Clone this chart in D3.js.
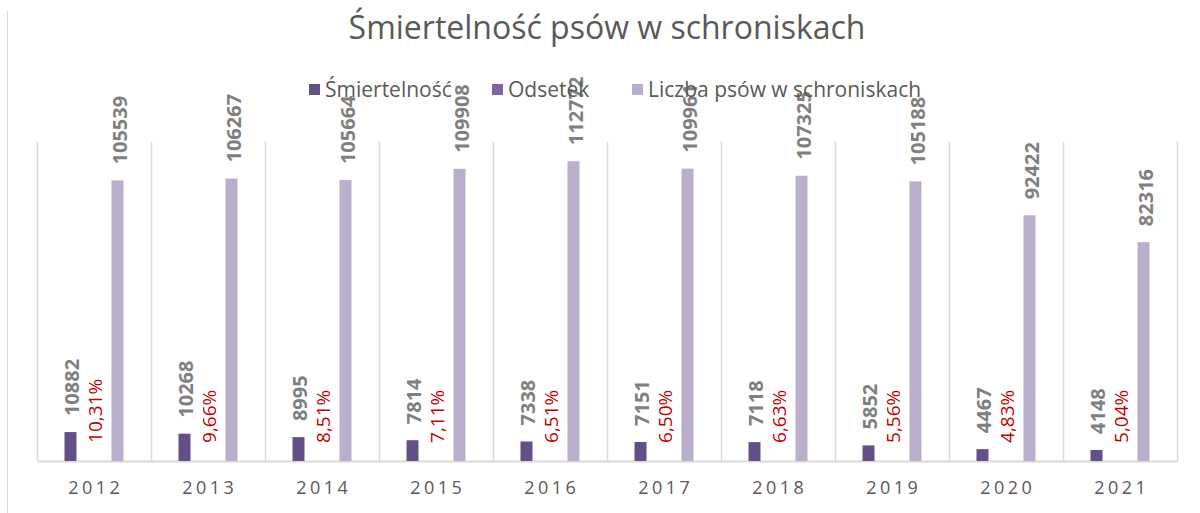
<!DOCTYPE html>
<html>
<head>
<meta charset="utf-8">
<script src="https://cdn.jsdelivr.net/npm/d3@7"></script>
<style>
  body { margin: 0; background: #fff; }
  svg { font-family: "Open Sans", sans-serif; }
</style>
</head>
<body>
<div id="chart"></div>
<script>
// data
var years = ["2012", "2013", "2014", "2015", "2016", "2017", "2018", "2019", "2020", "2021"];
var deaths = [10882, 10268, 8995, 7814, 7338, 7151, 7118, 5852, 4467, 4148];
var rates = [10.31, 9.66, 8.51, 7.11, 6.51, 6.50, 6.63, 5.56, 4.83, 5.04];
var dogs = [105539, 106267, 105664, 109908, 112772, 109961, 107325, 105188, 92422, 82316];
var seriesNames = ["Śmiertelność", "Odsetek", "Liczba psów w schroniskach"];
var seriesColors = ["#654f87", "#8064a2", "#b9aecb"];

var width = 1200, height = 513;
var plot = {left: 37, right: 1177, top: 142, bottom: 461};

var svg = d3.select("#chart").append("svg")
  .attr("width", width)
  .attr("height", height);

// chart border (only the left edge is in frame)
svg.append("line")
  .attr("x1", 7.5).attr("x2", 7.5)
  .attr("y1", 11).attr("y2", height)
  .attr("stroke", "#d9d9d9");

// Title
svg.append("text")
  .attr("x", 607)
  .attr("y", 39)
  .attr("text-anchor", "middle")
  .attr("fill", "#595959")
  .style("font-size", "32px")
  .text("Śmiertelność psów w schroniskach");

var xScale = d3.scaleBand()
  .domain(years)
  .range([plot.left, plot.right]);

var inner = d3.scaleBand()
  .domain([0, 1, 2])
  .range([-29.5, 29.5])
  .paddingInner(0.49);

var yScale = d3.scaleLinear()
  .domain([0, 120000])
  .range([plot.bottom, plot.top]);

// vertical gridlines at category boundaries
var bounds = years.map(function(d) { return xScale(d); }).concat([plot.right]);
svg.append("g").selectAll("line")
  .data(bounds)
  .enter().append("line")
  .attr("x1", function(d) { return Math.round(d) + 0.5; })
  .attr("x2", function(d) { return Math.round(d) + 0.5; })
  .attr("y1", plot.top)
  .attr("y2", plot.bottom)
  .attr("stroke", "#d9d9d9")
  .attr("stroke-width", 1.5);

// x axis
var xAxis = svg.append("g")
  .attr("transform", "translate(0," + plot.bottom + ")")
  .call(d3.axisBottom(xScale).tickSize(0).tickPadding(20));
xAxis.select(".domain").attr("stroke", "#d9d9d9").attr("stroke-width", 2);
xAxis.selectAll("text")
  .attr("fill", "#595959")
  .style("font-size", "18px")
  .style("letter-spacing", "3.5px")
  .style("font-family", "'Open Sans', sans-serif")
  .attr("dx", "1.75px");

var series = [deaths, rates, dogs];

// Bars
series.forEach(function(values, s) {
  svg.append("g").selectAll("rect")
    .data(values)
    .enter().append("rect")
    .attr("x", function(d, i) { return xScale(years[i]) + xScale.bandwidth() / 2 + inner(s); })
    .attr("width", inner.bandwidth())
    .attr("y", function(d) { return yScale(d); })
    .attr("height", function(d) { return plot.bottom - yScale(d); })
    .attr("fill", seriesColors[s]);
});

// value labels
function labelX(i, s) {
  return xScale(years[i]) + xScale.bandwidth() / 2 + inner(s) + inner.bandwidth() / 2;
}

[0, 2].forEach(function(s) {
  svg.append("g").selectAll("text")
    .data(series[s])
    .enter().append("text")
    .attr("transform", function(d, i) {
      return "translate(" + (labelX(i, s) + 9) + "," + (yScale(d) - 16) + ") rotate(-90)";
    })
    .attr("fill", "#7f7f7f")
    .attr("font-weight", "bold")
    .style("font-size", "20px")
    .text(function(d) { return d; });
});

svg.append("g").selectAll("text")
  .data(rates)
  .enter().append("text")
  .attr("transform", function(d, i) {
    return "translate(" + (labelX(i, 1) + 8) + "," + (yScale(d) - 18) + ") rotate(-90)";
  })
  .attr("fill", "#c00000")
  .style("font-size", "19px")
  .text(function(d) { return d.toFixed(2).replace(".", ",") + "%"; });

// Legend
var legendX = [309, 492, 632];
var legend = svg.selectAll(".legend")
  .data(seriesNames)
  .enter().append("g")
  .attr("class", "legend")
  .attr("transform", function(d, i) { return "translate(" + legendX[i] + ",84)"; });

legend.append("rect")
  .attr("width", 11)
  .attr("height", 11)
  .attr("fill", function(d, i) { return seriesColors[i]; });

legend.append("text")
  .attr("x", 16)
  .attr("y", 13)
  .attr("fill", "#595959")
  .style("font-size", "21px")
  .text(function(d) { return d; });
</script>
</body>
</html>
